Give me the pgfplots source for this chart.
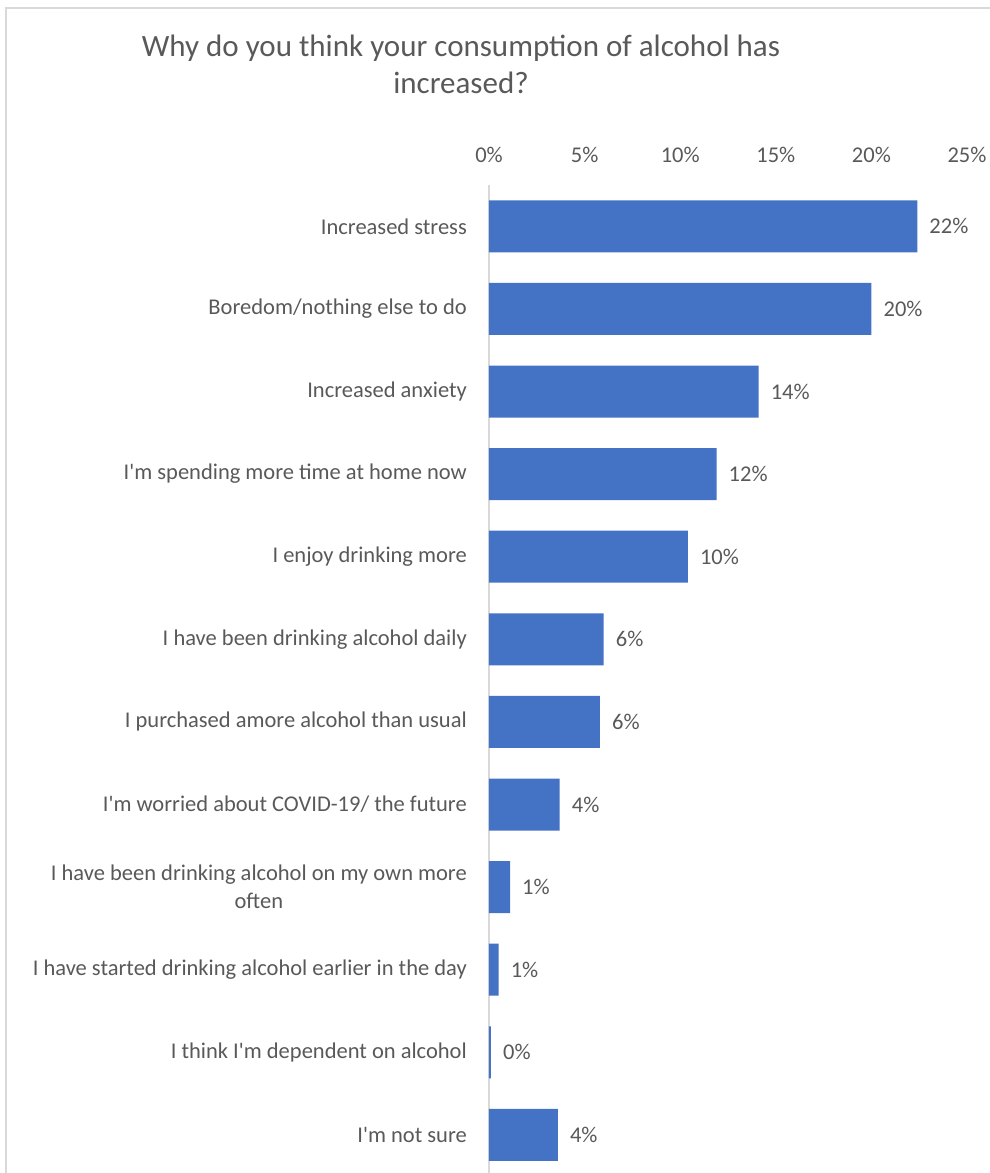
\documentclass[border=0pt]{standalone}
\usepackage{pgfplots}
\pgfplotsset{compat=1.18}
\usepackage{fontspec}
\setmainfont{Carlito}
\definecolor{barblue}{HTML}{4472C4}
\definecolor{txtgray}{HTML}{595959}
\definecolor{axgray}{HTML}{D9D9D9}
\newcommand{\ap}{\textquotesingle}
\begin{document}
\begin{tikzpicture}[x=1pt,y=1pt]
\useasboundingbox (0,0) rectangle (989,1173);
\draw[axgray, line width=1.3pt] (6,-5) -- (6,1165) -- (995,1165);
\node[txtgray, font=\fontsize{31}{37}\selectfont, align=center] at (461,1109) {Why do you think your consumption of alcohol has\\increased?};
\begin{axis}[
  at={(489pt,988pt)}, anchor=north west,
  scale only axis, width=478pt, height=991.2pt,
  xmin=0, xmax=25, ymin=-0.5, ymax=11.5, y dir=reverse,
  xbar, bar width=52pt,
  axis x line=top, axis y line=left,
  x axis line style={draw=none,-},
  y axis line style={axgray, line width=1.3pt, -},
  major tick length=0pt, tick style={draw=none},
  xtick={0,5,10,15,20,25},
  xticklabels={0\%,5\%,10\%,15\%,20\%,25\%},
  xticklabel style={anchor=base, inner sep=0pt, yshift=23pt, font=\fontsize{22.5}{26}\selectfont, text=txtgray},
  ytick={0,...,11},
  yticklabels={Increased stress, Boredom/nothing else to do, Increased anxiety, I\ap m spending more time at home now, I enjoy drinking more, I have been drinking alcohol daily, I purchased amore alcohol than usual, I\ap m worried about COVID-19/ the future, {I have been drinking alcohol on my own more\\often}, I have started drinking alcohol earlier in the day, I think I\ap m dependent on alcohol, I\ap m not sure},
  yticklabel style={align=center, anchor=east, inner sep=0pt, xshift=-22pt, font=\fontsize{22.5}{28}\selectfont, text=txtgray},
  point meta=explicit symbolic,
  nodes near coords={\pgfplotspointmeta\%},
  nodes near coords style={anchor=west, inner sep=0pt, xshift=12pt, font=\fontsize{22.5}{26}\selectfont, text=txtgray},
]
\addplot[fill=barblue, draw=none] table[x=x, y=y, meta=lab] {
x y lab
22.4 0 22
20.0 1 20
14.1 2 14
11.9 3 12
10.4 4 10
6.0 5 6
5.8 6 6
3.7 7 4
1.1 8 1
0.5 9 1
0.1 10 0
3.6 11 4
};
\end{axis}
\end{tikzpicture}
\end{document}
